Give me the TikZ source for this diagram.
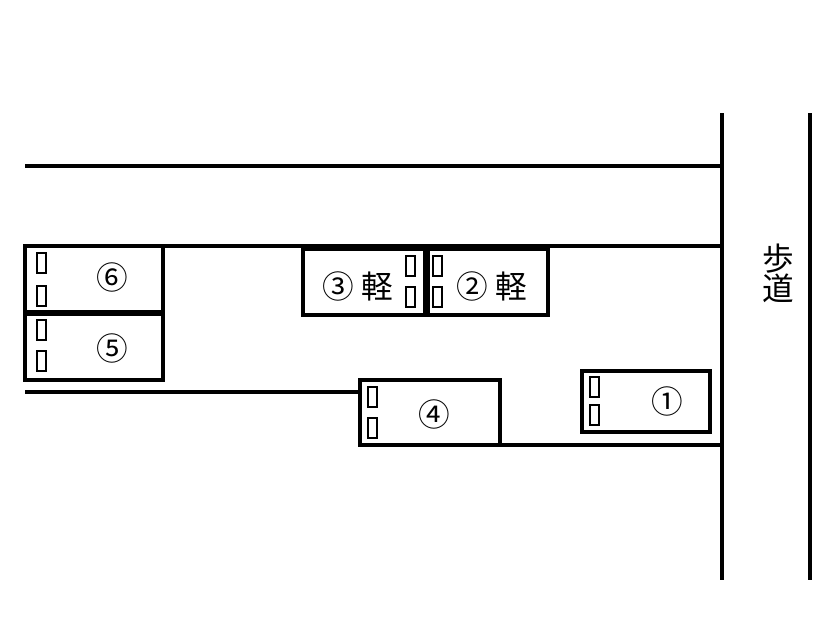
\documentclass[tikz,border=0pt]{standalone}
\usepackage{fontspec}
\newfontfamily\jp{Noto Sans CJK JP}
\begin{document}
\begin{tikzpicture}[x=.02cm, y=-.02cm, line width=2pt,
    lotbox/.style={draw, line width=2.4pt, fill=white},
    tagbox/.style={draw, line width=.6pt},
    lbl/.style={font=\jp\fontsize{18}{18}\selectfont, inner sep=1pt}]
    \useasboundingbox (0,0) rectangle (840,630);
    % roads
    \draw (25,166) -- (722,166);
    \draw (163,246) -- (722,246);
    \draw (25,392) -- (360,392);
    \draw (500,445) -- (722,445);
    \draw (722,113) -- (722,580);
    \draw (810,113) -- (810,580);
    \node[lbl] (walk1) at (778,259) {歩};
    \node[lbl] (walk2) at (778,288) {道};
    % parking lots
    \draw[lotbox] (25,246) rectangle (163,312);
    \draw[lotbox] (25,314) rectangle (163,380);
    \draw[lotbox] (303,249) rectangle (425,315);
    \draw[lotbox] (428,249) rectangle (548,315);
    \draw[lotbox] (360,380) rectangle (500,445);
    \draw[lotbox] (582,371) rectangle (710,432);
    % small marks
    \foreach \x/\y in {37/253,37/286,37/320,37/351,406/256,406/287,433/256,433/287,368/387,368/418,590/377,590/405}
        \draw[tagbox] (\x,\y) rectangle ++(9,20);
    \node[lbl] (n6) at (112,277) {⑥};
    \node[lbl] (n5) at (112,348) {⑤};
    \node[lbl] (n3) at (358,286) {③ 軽};
    \node[lbl] (n2) at (492,286) {② 軽};
    \node[lbl] (n4) at (434,414) {④};
    \node[lbl] (n1) at (667,401) {①};
\end{tikzpicture}
\end{document}
